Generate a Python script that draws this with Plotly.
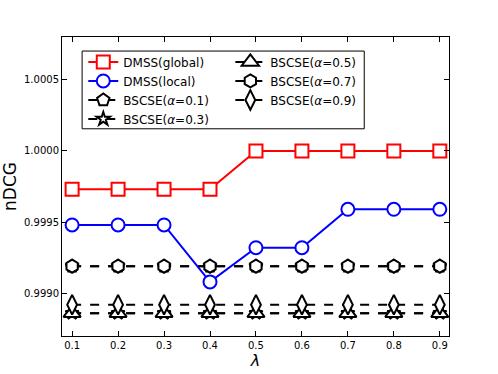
import plotly.graph_objects as go

lam = [0.1, 0.2, 0.3, 0.4, 0.5, 0.6, 0.7, 0.8, 0.9]
dmss_global = [0.99973, 0.99973, 0.99973, 0.99973, 1.0, 1.0, 1.0, 1.0, 1.0]
dmss_local = [0.99948, 0.99948, 0.99948, 0.99908, 0.99932, 0.99932, 0.99959, 0.99959, 0.99959]
bscse_01 = [0.99919] * 9
bscse_03 = [0.99886] * 9
bscse_05 = [0.99886] * 9
bscse_07 = [0.99919] * 9
bscse_09 = [0.99892] * 9

FONT = "DejaVu Sans"

fig = go.Figure()


def add(y, name, color, symbol, size, dash, legend):
    fig.add_trace(go.Scatter(
        x=lam, y=y, name=name, mode="lines+markers",
        line=dict(color=color, width=2, dash=dash),
        marker=dict(symbol=symbol, size=size, color="white",
                    line=dict(color=color, width=2)),
        legend=legend,
    ))


add(dmss_global, "DMSS(global)", "red", "square", 13, "solid", "legend")
add(dmss_local, "DMSS(local)", "blue", "circle", 13, "solid", "legend")
add(bscse_01, "BSCSE(<i>α</i>=0.1)", "black", "pentagon", 13, "dash", "legend")
add(bscse_03, "BSCSE(<i>α</i>=0.3)", "black", "star", 10, "dash", "legend")
add(bscse_05, "BSCSE(<i>α</i>=0.5)", "black", "triangle-up", 15, "dash", "legend2")
add(bscse_07, "BSCSE(<i>α</i>=0.7)", "black", "hexagon", 13, "dash", "legend2")
add(bscse_09, "BSCSE(<i>α</i>=0.9)", "black", "diamond-tall", 14, "dash", "legend2")

axis_common = dict(
    showgrid=False, zeroline=False, showline=True, linecolor="black",
    linewidth=1, mirror="ticks", ticks="inside", ticklen=5,
    tickcolor="black", tickfont=dict(family=FONT, size=10, color="black"),
    automargin=False,
)

fig.update_layout(
    width=498, height=374,
    margin=dict(l=62, r=49, t=37, b=38),
    plot_bgcolor="white", paper_bgcolor="white",
    font=dict(family=FONT, color="black"),
    xaxis=dict(range=[0.078, 0.92], tickvals=lam, tickformat=".1f",
               title=dict(text="<i>λ</i>", font=dict(size=16), standoff=0),
               **axis_common),
    yaxis=dict(range=[0.9987, 1.0008], tickvals=[0.9990, 0.9995, 1.0000, 1.0005],
               tickformat=".4f",
               title=dict(text="nDCG", font=dict(size=17), standoff=9),
               **axis_common),
    legend=dict(x=0.055, y=0.965, xanchor="left", yanchor="top",
                bgcolor="rgba(0,0,0,0)", font=dict(size=12, family=FONT),
                tracegroupgap=0, itemwidth=30),
    legend2=dict(x=0.435, y=0.965, xanchor="left", yanchor="top",
                 bgcolor="rgba(0,0,0,0)", font=dict(size=12, family=FONT),
                 tracegroupgap=0, itemwidth=30),
    shapes=[dict(type="rect", xref="paper", yref="paper",
                 x0=0.052, x1=0.781, y0=0.693, y1=0.953,
                 line=dict(color="black", width=1), fillcolor="white",
                 layer="above")],
)

fig.write_html("out.html", config={"displayModeBar": False},
               post_script="document.body.style.margin='0';")
